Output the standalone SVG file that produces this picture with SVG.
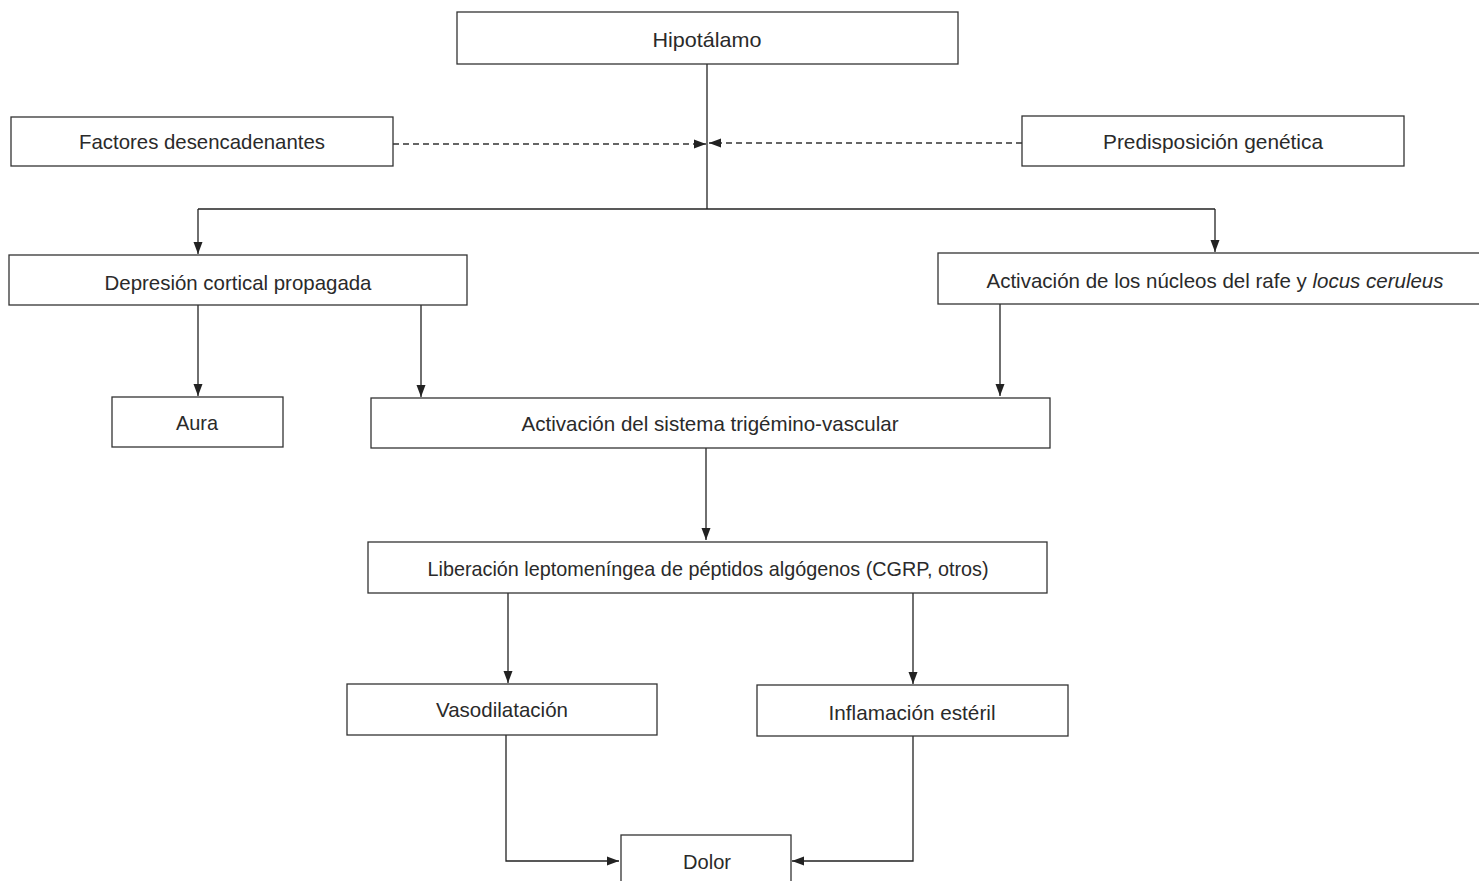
<svg xmlns="http://www.w3.org/2000/svg" width="1479" height="881" viewBox="0 0 1479 881">
<style>
.box{fill:#fff;stroke:#333;stroke-width:1.3}
.t{font-family:"Liberation Sans Narrow","Liberation Sans",Arial,sans-serif;font-size:21px;fill:#2a2a2a;text-anchor:middle}
.c{fill:none;stroke:#222;stroke-width:1.3}
.d{fill:none;stroke:#333;stroke-width:1.3;stroke-dasharray:6 4}
</style>
<defs>
<marker id="ar" viewBox="0 0 12 10" refX="12" refY="5" markerWidth="12" markerHeight="10" markerUnits="userSpaceOnUse" orient="auto">
<path d="M0,0.5 L12,5 L0,9.5 Z" fill="#222"/>
</marker>
</defs>
<rect width="1479" height="881" fill="#fff"/>
<g id="connectors">
<line class="c" x1="707" y1="64" x2="707" y2="209"/>
<line class="d" x1="393" y1="144" x2="706" y2="144" marker-end="url(#ar)"/>
<line class="d" x1="1022" y1="143" x2="709" y2="143" marker-end="url(#ar)"/>
<polyline class="c" points="198,209 1215,209"/>
<line class="c" x1="198" y1="209" x2="198" y2="254" marker-end="url(#ar)"/>
<line class="c" x1="1215" y1="209" x2="1215" y2="252" marker-end="url(#ar)"/>
<line class="c" x1="198" y1="305" x2="198" y2="396" marker-end="url(#ar)"/>
<line class="c" x1="421" y1="305" x2="421" y2="397" marker-end="url(#ar)"/>
<line class="c" x1="1000" y1="304" x2="1000" y2="396" marker-end="url(#ar)"/>
<line class="c" x1="706" y1="448" x2="706" y2="540" marker-end="url(#ar)"/>
<line class="c" x1="508" y1="593" x2="508" y2="683" marker-end="url(#ar)"/>
<line class="c" x1="913" y1="593" x2="913" y2="684" marker-end="url(#ar)"/>
<polyline class="c" points="506,735 506,861 619,861" marker-end="url(#ar)"/>
<polyline class="c" points="913,736 913,861 792,861" marker-end="url(#ar)"/>
</g>
<g id="n-hipotalamo"><rect class="box" x="457" y="12" width="501" height="52"/><text class="t" x="707" y="47" textLength="109" lengthAdjust="spacingAndGlyphs">Hipotálamo</text></g>
<g id="n-factores"><rect class="box" x="11" y="117" width="382" height="49"/><text class="t" x="202" y="149" textLength="246" lengthAdjust="spacingAndGlyphs">Factores desencadenantes</text></g>
<g id="n-predisposicion"><rect class="box" x="1022" y="116" width="382" height="50"/><text class="t" x="1213" y="149" textLength="220" lengthAdjust="spacingAndGlyphs">Predisposición genética</text></g>
<g id="n-depresion"><rect class="box" x="9" y="255" width="458" height="50"/><text class="t" x="238" y="290" textLength="267" lengthAdjust="spacingAndGlyphs">Depresión cortical propagada</text></g>
<g id="n-rafe"><rect class="box" x="938" y="253" width="545" height="51"/><text class="t" x="1215" y="288" textLength="457" lengthAdjust="spacingAndGlyphs">Activación de los núcleos del rafe y <tspan font-style="italic">locus ceruleus</tspan></text></g>
<g id="n-aura"><rect class="box" x="112" y="397" width="171" height="50"/><text class="t" x="197" y="430" textLength="42" lengthAdjust="spacingAndGlyphs">Aura</text></g>
<g id="n-trigemino"><rect class="box" x="371" y="398" width="679" height="50"/><text class="t" x="710" y="431" textLength="377" lengthAdjust="spacingAndGlyphs">Activación del sistema trigémino-vascular</text></g>
<g id="n-liberacion"><rect class="box" x="368" y="542" width="679" height="51"/><text class="t" x="708" y="576" textLength="561" lengthAdjust="spacingAndGlyphs">Liberación leptomeníngea de péptidos algógenos (CGRP, otros)</text></g>
<g id="n-vaso"><rect class="box" x="347" y="684" width="310" height="51"/><text class="t" x="502" y="717" textLength="132" lengthAdjust="spacingAndGlyphs">Vasodilatación</text></g>
<g id="n-inflamacion"><rect class="box" x="757" y="685" width="311" height="51"/><text class="t" x="912" y="720" textLength="167" lengthAdjust="spacingAndGlyphs">Inflamación estéril</text></g>
<g id="n-dolor"><rect class="box" x="621" y="835" width="170" height="60"/><text class="t" x="707" y="869" textLength="48" lengthAdjust="spacingAndGlyphs">Dolor</text></g>
</svg>
